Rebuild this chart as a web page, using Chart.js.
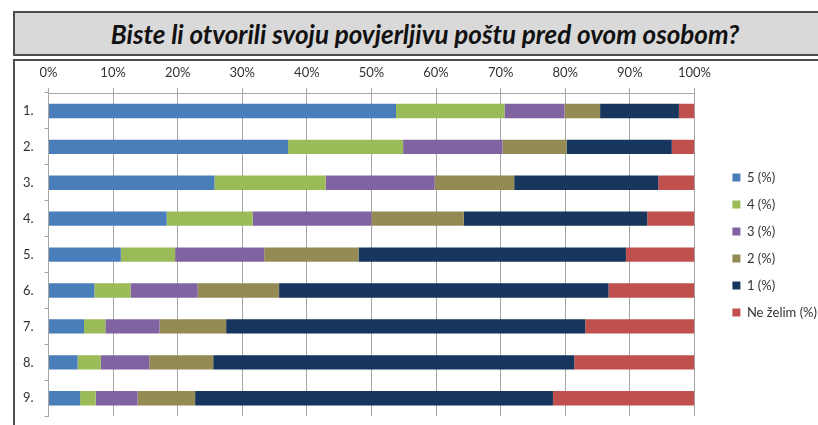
<!DOCTYPE html>
<html>
<head>
<meta charset="utf-8">
<script src="https://cdn.jsdelivr.net/npm/chart.js@4/dist/chart.umd.min.js"></script>
<style>
  html, body { margin: 0; padding: 0; background: #fff; overflow: hidden; width: 818px; height: 425px; }
  #title {
    position: absolute; left: 13px; top: 11px; width: 820px; height: 41px;
    background: #d9d9d9; border: 2px solid #4d4d4d;
    font: italic bold 26px Lato, "Liberation Sans", sans-serif; color: #111;
    display: flex; align-items: center; justify-content: center;
  }
  #frame {
    position: absolute; left: 13px; top: 59px; width: 840px; height: 400px;
    border-top: 2px solid #4d4d4d; border-left: 2px solid #4d4d4d;
  }
  #chart { position: absolute; left: 15px; top: 61px; }
</style>
</head>
<body>
<div id="title">Biste li otvorili svoju povjerljivu poštu pred ovom osobom?</div>
<div id="frame"></div>
<canvas id="chart" width="840" height="374"></canvas>
<script>
// Question rows
const categories = ['1.', '2.', '3.', '4.', '5.', '6.', '7.', '8.', '9.'];

// Share of answers per row (%)
const grade5 = [53.8, 37.1, 25.7, 18.3, 11.2, 7.1, 5.5, 4.5, 4.9];
const grade4 = [16.8, 17.8, 17.2, 13.3, 8.4, 5.6, 3.3, 3.6, 2.4];
const grade3 = [9.3, 15.4, 16.9, 18.4, 13.8, 10.4, 8.4, 7.5, 6.5];
const grade2 = [5.5, 9.9, 12.3, 14.3, 14.6, 12.6, 10.3, 9.9, 8.9];
const grade1 = [12.2, 16.3, 22.3, 28.4, 41.4, 51.0, 55.6, 55.9, 55.4];
const noAnswer = [2.4, 3.5, 5.6, 7.3, 10.6, 13.3, 16.9, 18.6, 21.9];

const seriesNames = ['5 (%)', '4 (%)', '3 (%)', '2 (%)', '1 (%)', 'Ne želim (%)'];
const seriesValues = [grade5, grade4, grade3, grade2, grade1, noAnswer];
const seriesColors = ['#4a7ebb', '#9bbb59', '#8064a2', '#948a54', '#17365d', '#c0504d'];

const axisMin = 0, axisMax = 100, axisStep = 10;

const FONT = 'Lato, "Liberation Sans", sans-serif';
const GRID = '#a6a6a6';
const TEXT = '#333333';

new Chart(document.getElementById('chart'), {
  type: 'bar',
  data: {
    labels: categories,
    datasets: seriesNames.map((name, i) => ({
      label: name,
      data: seriesValues[i],
      backgroundColor: seriesColors[i],
      borderWidth: 0,
      barPercentage: 0.4,
      categoryPercentage: 1.0,
      yAxisID: 'y'
    }))
  },
  options: {
    indexAxis: 'y',
    responsive: false,
    animation: false,
    devicePixelRatio: 1,
    layout: { padding: { left: 0, top: 0, right: 28, bottom: 6 } },
    plugins: {
      title: { display: false },
      tooltip: { enabled: false },
      legend: {
        position: 'right',
        align: 'center',
        labels: {
          boxWidth: 8,
          boxHeight: 8,
          padding: 14,
          color: TEXT,
          font: { family: FONT, size: 13 }
        }
      }
    },
    scales: {
      x: {
        position: 'top',
        stacked: true,
        min: axisMin,
        max: axisMax,
        ticks: {
          stepSize: axisStep,
          color: TEXT,
          padding: 7,
          font: { family: FONT, size: 13 },
          callback: v => v + '%'
        },
        grid: { color: GRID, lineWidth: 1, tickLength: 5, drawTicks: true },
        border: { color: GRID, width: 1 },
        afterFit: s => { s.height = 32; }
      },
      y: {
        position: 'left',
        stacked: true,
        ticks: {
          color: TEXT,
          padding: 11,
          font: { family: FONT, size: 13 }
        },
        grid: { offset: true, drawOnChartArea: false, drawTicks: true, tickLength: 4, color: GRID },
        border: { color: GRID, width: 1 },
        afterFit: s => { s.width = 33.5; }
      },
      gap: {
        type: 'category',
        labels: categories,
        position: 'right',
        display: true,
        ticks: { display: false },
        grid: { display: false },
        border: { display: false },
        afterFit: s => { s.width = 24; }
      }
    }
  }
});
</script>
</body>
</html>
